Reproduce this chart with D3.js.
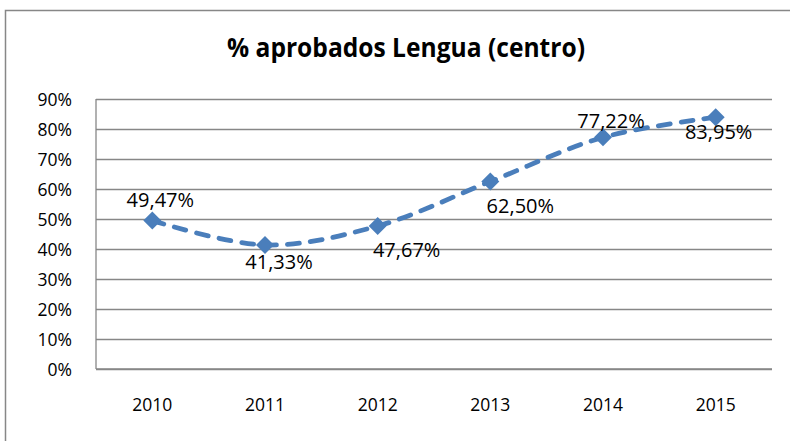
<!DOCTYPE html>
<html>
<head>
<meta charset="utf-8">
<script src="https://cdn.jsdelivr.net/npm/d3@7"></script>
<style>
  html, body { margin: 0; padding: 0; background: #fff; }
  svg { display: block; }
</style>
</head>
<body>
<svg id="chart" width="790" height="441"></svg>
<script>
// ---- data ----
const chartTitle = "% aprobados Lengua (centro)";
const years = ["2010", "2011", "2012", "2013", "2014", "2015"];
const values = [0.4947, 0.4133, 0.4767, 0.6250, 0.7722, 0.8395];
const valueLabels = ["49,47%", "41,33%", "47,67%", "62,50%", "77,22%", "83,95%"];
const yTicks = [0, 0.1, 0.2, 0.3, 0.4, 0.5, 0.6, 0.7, 0.8, 0.9];
const yTickLabels = ["0%", "10%", "20%", "30%", "40%", "50%", "60%", "70%", "80%", "90%"];

// ---- layout ----
const W = 790, H = 441;
const plot = { left: 96, right: 772, top: 99, bottom: 369 };
const labelDx = [8, 14, 29, 30, 8, 3];
const labelDy = [-14, 24, 31, 31, -9, 22];
const blue = "#4a7ebb";
const grey = "#878787";
const font = "'Open Sans', sans-serif";

const svg = d3.select("#chart");

// outer chart border (extends beyond the picture right and bottom)
svg.append("rect")
  .attr("x", 5.5).attr("y", 10.5)
  .attr("width", W).attr("height", H)
  .attr("fill", "#fff")
  .attr("stroke", grey).attr("stroke-width", 1.5);

// title
svg.append("text")
  .attr("x", 406).attr("y", 57)
  .attr("text-anchor", "middle")
  .attr("font-family", font)
  .attr("font-weight", "bold")
  .attr("font-size", 27)
  .attr("textLength", 358)
  .attr("lengthAdjust", "spacingAndGlyphs")
  .attr("fill", "#000")
  .text(chartTitle);

const x = d3.scaleBand().domain(years).range([plot.left, plot.right]).padding(0);
const y = d3.scaleLinear().domain([0, 0.9]).range([plot.bottom, plot.top]);

// gridlines + y labels via axis
const yAxis = d3.axisLeft(y)
  .tickValues(yTicks)
  .tickSize(-(plot.right - plot.left))
  .tickPadding(24)
  .tickFormat((d, i) => yTickLabels[i]);

const gy = svg.append("g")
  .attr("transform", `translate(${plot.left},0)`)
  .call(yAxis);
gy.select(".domain").remove();
gy.selectAll(".tick line").attr("stroke", grey).attr("stroke-width", 1.3);
gy.selectAll(".tick text")
  .attr("font-family", font).attr("font-size", 17.5)
  .attr("fill", "#000")
  .attr("dy", "0.38em");

// y axis line
svg.append("line")
  .attr("x1", plot.left).attr("x2", plot.left)
  .attr("y1", y(0.9)).attr("y2", y(0))
  .attr("stroke", grey).attr("stroke-width", 1.3);

// x axis
const xAxis = d3.axisBottom(x).tickSize(0).tickPadding(30);
const gx = svg.append("g")
  .attr("transform", `translate(0,${plot.bottom})`)
  .call(xAxis);
gx.select(".domain").remove();
gx.selectAll(".tick text")
  .attr("font-family", font).attr("font-size", 17.5).attr("fill", "#000");
svg.append("line")
  .attr("x1", plot.left).attr("x2", plot.right)
  .attr("y1", y(0)).attr("y2", y(0))
  .attr("stroke", grey).attr("stroke-width", 1.3);

const cx = d => x(d) + x.bandwidth() / 2;
const pts = years.map((yr, i) => [cx(yr), y(values[i])]);

// smoothed dashed line
const line = d3.line().curve(d3.curveCatmullRom.alpha(0.5));
svg.append("path")
  .attr("d", line(pts))
  .attr("fill", "none")
  .attr("stroke", blue)
  .attr("stroke-width", 4.8)
  .attr("stroke-linecap", "round")
  .attr("stroke-dasharray", "12,11");

// diamond markers
const r = 9;
svg.append("g").selectAll("path")
  .data(pts)
  .join("path")
  .attr("d", p => `M${p[0]},${p[1] - r}L${p[0] + r},${p[1]}L${p[0]},${p[1] + r}L${p[0] - r},${p[1]}Z`)
  .attr("fill", blue);

// data labels
svg.append("g").selectAll("text")
  .data(pts)
  .join("text")
  .attr("x", (p, i) => p[0] + labelDx[i])
  .attr("y", (p, i) => p[1] + labelDy[i])
  .attr("text-anchor", "middle")
  .attr("font-family", font)
  .attr("font-size", 20)
  .attr("fill", "#000")
  .text((p, i) => valueLabels[i]);
</script>
</body>
</html>
